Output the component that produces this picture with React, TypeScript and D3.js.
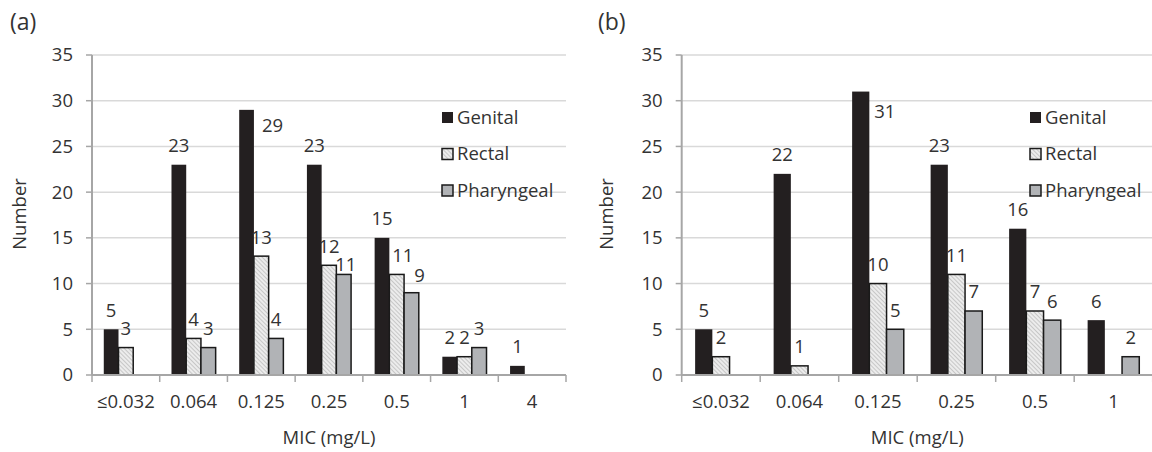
import React from "react";
import * as d3 from "d3";

const seriesNames = ["Genital", "Rectal", "Pharyngeal"];
const yTicks = [0, 5, 10, 15, 20, 25, 30, 35];

const catsA = ["≤0.032", "0.064", "0.125", "0.25", "0.5", "1", "4"];
const genitalA = [5, 23, 29, 23, 15, 2, 1];
const rectalA = [3, 4, 13, 12, 11, 2, 0];
const pharyngealA = [0, 3, 4, 11, 9, 3, 0];

const catsB = ["≤0.032", "0.064", "0.125", "0.25", "0.5", "1"];
const genitalB = [5, 22, 31, 23, 16, 6];
const rectalB = [2, 1, 10, 11, 7, 0];
const pharyngealB = [0, 0, 5, 7, 6, 2];

// label nudges (dx, dy in px) keyed "category|series"
const nudgesA: Record<string, [number, number]> = {
  "0.125|Genital": [26, 35],
  "0.25|Pharyngeal": [2, 9.5],
  "0.5|Rectal": [6, 0],
  "0.5|Pharyngeal": [8, 2],
};
const nudgesB: Record<string, [number, number]> = {
  "0.125|Genital": [24, 39],
};

const FONT = "'Open Sans', sans-serif";
const TEXT = "#333333";
const FS = 18.5;
const fills = ["#231f20", "url(#hatch)", "#b1b3b6"];

type PanelProps = {
  title: string;
  cats: string[];
  series: number[][];
  x0: number;
  x1: number;
  innerPad: number;
  titleX: number;
  yLabelX: number;
  legendX: number;
  nudges: Record<string, [number, number]>;
};

function Panel(p: PanelProps) {
  const y = d3.scaleLinear().domain([0, 35]).range([375, 55]);
  const x = d3.scaleBand<string>().domain(p.cats).range([p.x0, p.x1]).padding(0);
  const xs = d3
    .scaleBand<string>()
    .domain(seriesNames)
    .range([0, x.bandwidth()])
    .paddingInner(0)
    .paddingOuter(p.innerPad);
  const boundaries = p.cats.map((c) => x(c)!).concat([p.x1]);
  const mid = (p.x0 + p.x1) / 2;
  return (
    <g>
      <text x={p.titleX} y={22} dy="0.35em" fontSize={23} fill={TEXT} fontFamily={FONT}>
        {p.title}
      </text>
      {yTicks.map((t) => (
        <g key={t}>
          {t > 0 && (
            <line x1={p.x0} x2={p.x1} y1={y(t)} y2={y(t)} stroke="#d9d9d9" strokeWidth={1.5} />
          )}
          <line x1={p.x0 - 6} x2={p.x0} y1={y(t)} y2={y(t)} stroke="#a6a6a6" strokeWidth={1.5} />
          <text
            x={p.x0 - 19}
            y={y(t)}
            dy="0.35em"
            textAnchor="end"
            fontSize={FS}
            fill={TEXT}
            fontFamily={FONT}
          >
            {t}
          </text>
        </g>
      ))}
      {p.series.map((vals, si) =>
        vals.map((v, ci) => {
          if (v === 0) return null;
          const c = p.cats[ci];
          const bx = x(c)! + xs(seriesNames[si])!;
          const bw = xs.bandwidth();
          return (
            <rect
              key={`${si}-${ci}`}
              x={bx}
              y={y(v)}
              width={bw}
              height={y(0) - y(v)}
              fill={fills[si]}
              stroke={si === 0 ? "none" : "#1a1a1a"}
              strokeWidth={1.5}
            />
          );
        })
      )}
      <line x1={p.x0} x2={p.x0} y1={y(35)} y2={y(0)} stroke="#a6a6a6" strokeWidth={2} />
      <line x1={p.x0} x2={p.x1} y1={y(0)} y2={y(0)} stroke="#a6a6a6" strokeWidth={2} />
      {boundaries.map((bx, i) => (
        <line key={i} x1={bx} x2={bx} y1={y(0)} y2={y(0) + 7} stroke="#a6a6a6" strokeWidth={1.5} />
      ))}
      {p.series.map((vals, si) =>
        vals.map((v, ci) => {
          if (v === 0) return null;
          const c = p.cats[ci];
          const cx = x(c)! + xs(seriesNames[si])! + xs.bandwidth() / 2;
          const n = p.nudges[`${c}|${seriesNames[si]}`] || [0, 0];
          return (
            <text
              key={`l${si}-${ci}`}
              x={cx + n[0]}
              y={y(v) - 19 + n[1]}
              dy="0.35em"
              textAnchor="middle"
              fontSize={FS}
              fill={TEXT}
              fontFamily={FONT}
            >
              {v}
            </text>
          );
        })
      )}
      {p.cats.map((c) => (
        <text
          key={c}
          x={x(c)! + x.bandwidth() / 2}
          y={402}
          dy="0.35em"
          textAnchor="middle"
          fontSize={FS}
          fill={TEXT}
          fontFamily={FONT}
        >
          {c}
        </text>
      ))}
      <text x={mid} y={438} dy="0.35em" textAnchor="middle" fontSize={FS} fill={TEXT} fontFamily={FONT}>
        MIC (mg/L)
      </text>
      <text
        transform={`translate(${p.yLabelX},214) rotate(-90)`}
        dy="0.35em"
        textAnchor="middle"
        fontSize={FS}
        fill={TEXT}
        fontFamily={FONT}
      >
        Number
      </text>
      {seriesNames.map((s, i) => {
        const ly = 117.5 + i * 36.5;
        return (
          <g key={s}>
            <rect
              x={p.legendX}
              y={ly - 5.5}
              width={11}
              height={11}
              fill={fills[i]}
              stroke={i === 0 ? "none" : "#1a1a1a"}
              strokeWidth={1.5}
            />
            <text
              x={p.legendX + 15}
              y={ly}
              dy="0.35em"
              fontSize={FS}
              fill={TEXT}
              fontFamily={FONT}
            >
              {s}
            </text>
          </g>
        );
      })}
    </g>
  );
}

export default function App() {
  return (
    <svg
      width={1152}
      height={452}
      style={{ position: "absolute", left: 0, top: 0, background: "#ffffff" }}
    >
      <defs>
        <pattern
          id="hatch"
          width={3}
          height={3}
          patternUnits="userSpaceOnUse"
          patternTransform="rotate(-45)"
        >
          <rect width={3} height={3} fill="#ececec" />
          <line x1={0} y1={0} x2={0} y2={3} stroke="#b4b4b4" strokeWidth={1.3} />
        </pattern>
      </defs>
      <Panel
        title="(a)"
        cats={catsA}
        series={[genitalA, rectalA, pharyngealA]}
        x0={92}
        x1={566}
        innerPad={0.8}
        titleX={10}
        yLabelX={20}
        legendX={442}
        nudges={nudgesA}
      />
      <Panel
        title="(b)"
        cats={catsB}
        series={[genitalB, rectalB, pharyngealB]}
        x0={681.7}
        x1={1152.7}
        innerPad={0.78}
        titleX={598}
        yLabelX={607}
        legendX={1030}
        nudges={nudgesB}
      />
    </svg>
  );
}
